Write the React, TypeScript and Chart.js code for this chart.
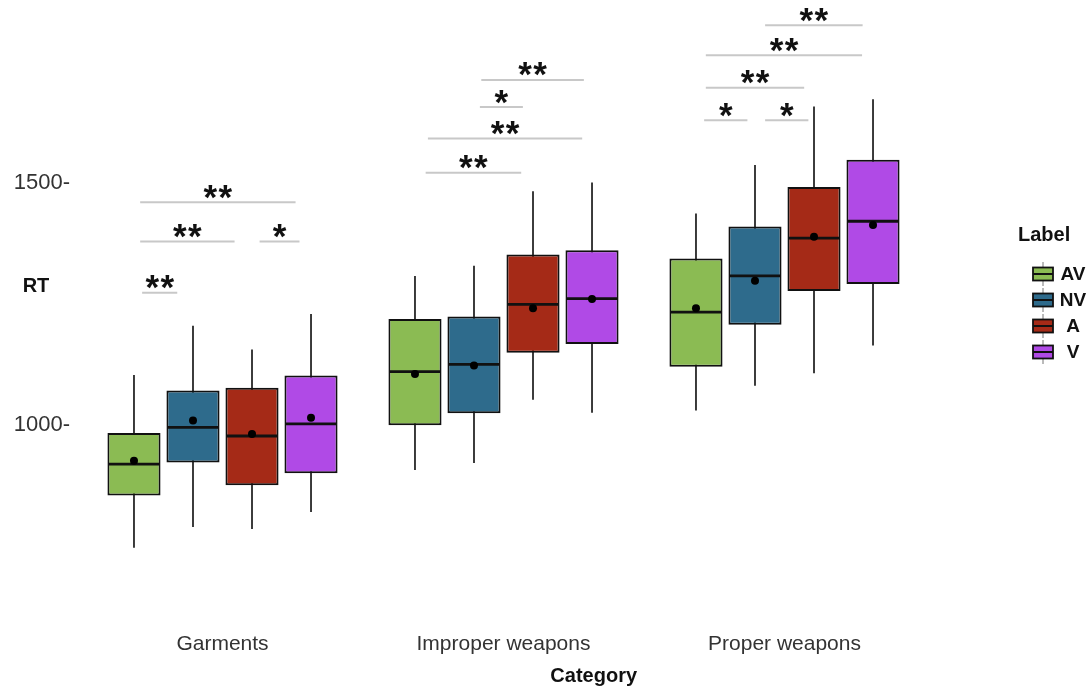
import React, { useEffect, useRef } from 'react';
import { Chart, registerables } from 'chart.js';

Chart.register(...registerables);

const FONT = "'Liberation Sans', Arial, Helvetica, sans-serif";

const CATEGORIES = ['Garments', 'Improper weapons', 'Proper weapons'];
const SERIES = ['AV', 'NV', 'A', 'V'];
const SERIES_COLORS = ['#8BBB53', '#2E6B8C', '#A52A17', '#B04AE6'];

// rows: AV, NV, A, V ; columns: Garments, Improper weapons, Proper weapons
const LOW = [
  [746, 907, 1030],
  [789, 921, 1081],
  [785, 1052, 1107],
  [820, 1025, 1164],
];
const Q1 = [
  [854, 999, 1120],
  [922, 1024, 1207],
  [875, 1149, 1277],
  [900, 1167, 1291],
];
const MEDIAN = [
  [919, 1110, 1233],
  [995, 1125, 1308],
  [977, 1249, 1386],
  [1002, 1261, 1421],
];
const Q3 = [
  [983, 1219, 1344],
  [1071, 1224, 1410],
  [1077, 1352, 1492],
  [1102, 1361, 1548],
];
const HIGH = [
  [1103, 1308, 1437],
  [1205, 1329, 1537],
  [1156, 1483, 1658],
  [1229, 1501, 1673],
];
const MEAN = [
  [926, 1105, 1241],
  [1009, 1123, 1298],
  [981, 1241, 1389],
  [1015, 1260, 1413],
];

const Y_TICKS = [1000, 1500];
const Y_MIN = 607;
const Y_MAX = 1868;

// significance brackets: x in category-axis units, y in RT units
const BRACKET_X0 = [-0.293, -0.293, 0.132, -0.286, 0.921, 0.916, 0.731, 0.723, 1.931, 1.72, 1.72, 1.714, 1.931];
const BRACKET_X1 = [0.26, 0.043, 0.274, -0.161, 1.286, 1.069, 1.28, 1.063, 2.278, 2.276, 2.07, 1.868, 2.085];
const BRACKET_Y = [1460, 1379, 1379, 1273, 1713, 1657, 1592, 1521, 1826, 1764, 1697, 1630, 1630];
const BRACKET_LABEL = ['**', '**', '*', '**', '**', '*', '**', '**', '**', '**', '**', '*', '*'];

const boxPlugin = {
  id: 'boxExtras',
  beforeDatasetsDraw(chart: any) {
    const y = chart.scales.y;
    const ctx = chart.ctx;
    ctx.save();
    ctx.strokeStyle = '#1a1a1a';
    ctx.lineWidth = 1.7;
    SERIES.forEach((_, s) => {
      chart.getDatasetMeta(s).data.forEach((el: any, c: number) => {
        ctx.beginPath();
        ctx.moveTo(el.x, y.getPixelForValue(HIGH[s][c]));
        ctx.lineTo(el.x, y.getPixelForValue(LOW[s][c]));
        ctx.stroke();
      });
    });
    ctx.restore();
  },
  afterDatasetsDraw(chart: any) {
    const y = chart.scales.y;
    const ctx = chart.ctx;
    ctx.save();
    SERIES.forEach((_, s) => {
      chart.getDatasetMeta(s).data.forEach((el: any, c: number) => {
        const half = el.width / 2;
        const ym = y.getPixelForValue(MEDIAN[s][c]);
        ctx.strokeStyle = '#111';
        ctx.lineWidth = 2.8;
        ctx.beginPath();
        ctx.moveTo(el.x - half + 1, ym);
        ctx.lineTo(el.x + half - 1, ym);
        ctx.stroke();
        ctx.fillStyle = '#000';
        ctx.beginPath();
        ctx.arc(el.x, y.getPixelForValue(MEAN[s][c]), 4, 0, Math.PI * 2);
        ctx.fill();
      });
    });
    ctx.restore();
  },
};

const bracketPlugin = {
  id: 'brackets',
  afterDatasetsDraw(chart: any) {
    const xs = chart.scales.x;
    const ys = chart.scales.y;
    const ctx = chart.ctx;
    ctx.save();
    ctx.font = `bold 35px ${FONT}`;
    ctx.textAlign = 'center';
    ctx.textBaseline = 'alphabetic';
    const m = ctx.measureText('*');
    const inkMid = (m.actualBoundingBoxAscent - m.actualBoundingBoxDescent) / 2;
    BRACKET_Y.forEach((v, i) => {
      const x0 = xs.getPixelForValue(BRACKET_X0[i]);
      const x1 = xs.getPixelForValue(BRACKET_X1[i]);
      const yp = ys.getPixelForValue(v);
      ctx.strokeStyle = '#c8c8c8';
      ctx.lineWidth = 2;
      ctx.beginPath();
      ctx.moveTo(x0, yp);
      ctx.lineTo(x1, yp);
      ctx.stroke();
      const label = BRACKET_LABEL[i];
      const cx = (x0 + x1) / 2;
      const starY = yp - 10.5 + inkMid;
      ctx.fillStyle = '#111';
      const n = label.length;
      for (let k = 0; k < n; k++) {
        ctx.fillText('*', cx + (k - (n - 1) / 2) * 15, starY);
      }
    });
    ctx.restore();
  },
};

const textPlugin = {
  id: 'textExtras',
  afterDraw(chart: any) {
    const ctx = chart.ctx;
    const a = chart.chartArea;
    ctx.save();
    ctx.textBaseline = 'middle';
    // y-axis title
    ctx.fillStyle = '#111';
    ctx.font = `bold 20px ${FONT}`;
    ctx.textAlign = 'center';
    ctx.fillText('RT', 36, a.top + (a.bottom - a.top) * 0.462);
    // x-axis title
    ctx.font = `bold 20px ${FONT}`;
    ctx.fillText('Category', a.left + (a.right - a.left) * 0.607, chart.height - 12);
    // legend
    const lx = a.right + 93;
    ctx.textAlign = 'left';
    ctx.font = `bold 20px ${FONT}`;
    ctx.fillText('Label', lx, 235);
    SERIES.forEach((name, s) => {
      const cy = 274 + s * 26;
      const gx = lx + 25;
      ctx.strokeStyle = '#777';
      ctx.lineWidth = 1;
      ctx.beginPath();
      ctx.moveTo(gx, cy - 12);
      ctx.lineTo(gx, cy + 12);
      ctx.stroke();
      ctx.fillStyle = SERIES_COLORS[s];
      ctx.fillRect(gx - 10, cy - 6.5, 20, 13);
      ctx.strokeStyle = '#111';
      ctx.lineWidth = 1.8;
      ctx.strokeRect(gx - 10, cy - 6.5, 20, 13);
      ctx.beginPath();
      ctx.moveTo(gx - 10, cy);
      ctx.lineTo(gx + 10, cy);
      ctx.lineWidth = 2;
      ctx.stroke();
      ctx.fillStyle = '#111';
      ctx.textAlign = 'center';
      ctx.font = `bold 19px ${FONT}`;
      ctx.fillText(name, lx + 55, cy + 1);
    });
    ctx.restore();
  },
};

export default function App() {
  const ref = useRef<HTMLCanvasElement>(null);
  useEffect(() => {
    document.body.style.margin = '0';
    const canvas = ref.current;
    if (!canvas) return;
    const chart = new Chart(canvas, {
      type: 'bar',
      data: {
        labels: CATEGORIES,
        datasets: SERIES.map((name, s) => ({
          label: name,
          data: CATEGORIES.map((_, c) => [Q1[s][c], Q3[s][c]]),
          backgroundColor: SERIES_COLORS[s],
          borderColor: '#111',
          borderWidth: 2,
          borderSkipped: false,
          categoryPercentage: 0.84,
          barPercentage: 0.9,
        })),
      },
      options: {
        responsive: false,
        animation: false,
        devicePixelRatio: 1,
        layout: { padding: { left: 0, right: 166, top: 5, bottom: 31 } },
        plugins: { legend: { display: false }, tooltip: { enabled: false } },
        scales: {
          x: {
            grid: { display: false, drawTicks: false },
            border: { display: false },
            ticks: { font: { family: FONT, size: 21 }, color: '#333', padding: 17 },
            afterFit: (axis: any) => {
              axis.height = 42;
              axis.paddingLeft = 0;
              axis.paddingRight = 0;
            },
          },
          y: {
            min: Y_MIN,
            max: Y_MAX,
            grid: { display: false, drawTicks: false },
            border: { display: false },
            afterBuildTicks: (axis: any) => {
              axis.ticks = Y_TICKS.map((v) => ({ value: v }));
            },
            afterFit: (axis: any) => {
              axis.width = 82;
              axis.paddingTop = 0;
              axis.paddingBottom = 0;
            },
            ticks: {
              font: { family: FONT, size: 22 },
              color: '#333',
              padding: 12,
              callback: (v: any) => `${v}-`,
            },
          },
        },
      } as any,
      plugins: [boxPlugin, bracketPlugin, textPlugin],
    });
    return () => chart.destroy();
  }, []);
  return <canvas ref={ref} width={1091} height={688} style={{ display: 'block' }} />;
}
